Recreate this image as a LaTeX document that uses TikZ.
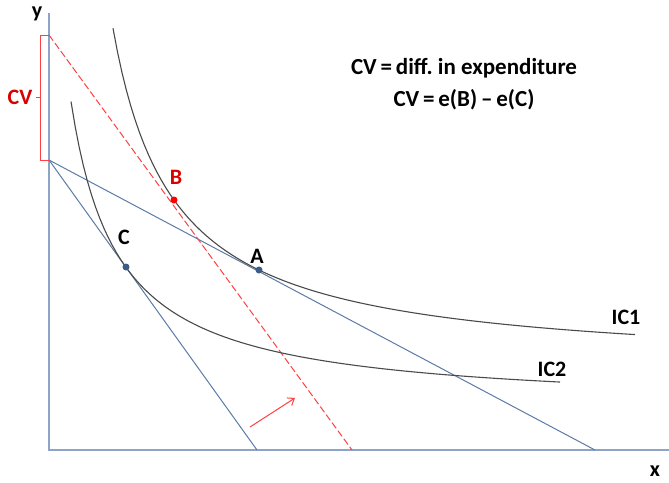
\documentclass[tikz,border=0pt]{standalone}
\usepackage{fontspec}
\setmainfont{Carlito}
\usetikzlibrary{arrows.meta}
\definecolor{axiscol}{HTML}{8EA4C6}
\definecolor{budgetcol}{HTML}{5B7BA6}
\definecolor{iccol}{HTML}{4A4A4A}
\definecolor{redcol}{HTML}{FF4040}
\definecolor{dotblue}{HTML}{3B5C88}
\tikzset{
  axisline/.style={draw=axiscol, line width=2.2pt},
  budget/.style={draw=budgetcol, line width=1pt},
  icurve/.style={draw=iccol, line width=1.1pt},
  reddash/.style={draw=redcol, line width=1pt, dash pattern=on 7pt off 3pt},
  lbl/.style={font=\fontsize{22}{24}\selectfont\bfseries, inner sep=0pt},
  txtlbl/.style={font=\fontsize{23}{25}\selectfont\bfseries, inner sep=0pt},
  dotb/.style={circle, fill=dotblue, inner sep=0pt, minimum size=7pt},
  dotr/.style={circle, fill=red, inner sep=0pt, minimum size=7pt},
}
\begin{document}
\frenchspacing
\begin{tikzpicture}[x=1pt,y=-1pt]
\useasboundingbox (0,0) rectangle (669,482);
% coordinates
\coordinate (O) at (49,450);
\coordinate (ytop) at (49,13);
\coordinate (xend) at (669,450);
\coordinate (Y0) at (49,160);
\coordinate (X1) at (595,450);
\coordinate (X2) at (257,450);
\coordinate (R0) at (49,35);
\coordinate (R1) at (352,450);
% axes
\draw[axisline] (ytop) -- (O) -- (xend);
% budget lines
\draw[budget] (Y0) -- (X1);
\draw[budget] (Y0) -- (X2);
% red dashed
\draw[reddash] (R0) -- (R1);
% indifference curves
\draw[icurve] plot[domain=64:586, samples=120] ({49+\x},{450-(80+206.4/((\x-3.6)/100))});
\draw[icurve] plot[domain=22:511, samples=120] ({49+\x},{450-(41+144.5/((\x+25)/100))});
% points
\node[dotb] (A) at (259,270) {};
\node[dotb] (C) at (126,267) {};
\node[dotr] (B) at (174,200) {};
% labels
\node[lbl] (lA) at (257,256) {A};
\node[lbl] (lC) at (124,237) {C};
\node[lbl, text=red!85!black] (lB) at (176,177) {B};
\node[lbl] (lIC1) at (626,317) {IC1};
\node[lbl] (lIC2) at (552,369) {IC2};
\node[lbl] (ly) at (37,14) {y};
\node[lbl] (lx) at (655,471) {x};
\node[lbl, text=red!85!black] (lCV) at (20,97) {CV};
% bracket
\coordinate (bt) at (40,35);
\coordinate (bb) at (40,160);
\coordinate (bm) at (40,97);
\coordinate (bt2) at (49,35);
\coordinate (bb2) at (49,160);
\coordinate (bm2) at (36,97);
\draw[redcol, line width=1pt] (bt2) -- (bt) -- (bb) -- (bb2);
\draw[redcol, line width=1pt] (bm) -- (bm2);
% formula text
\node[txtlbl, align=center] (txt) at (464,84) {CV\,=\,diff. in expenditure\\[7pt]CV\,=\,e(B)\,–\,e(C)};
% arrow
\coordinate (a0) at (250,427);
\coordinate (a1) at (295,398);
\draw[redcol, line width=1pt, -{Straight Barb[length=6pt,width=9pt]}] (a0) -- (a1);
\end{tikzpicture}
\end{document}
